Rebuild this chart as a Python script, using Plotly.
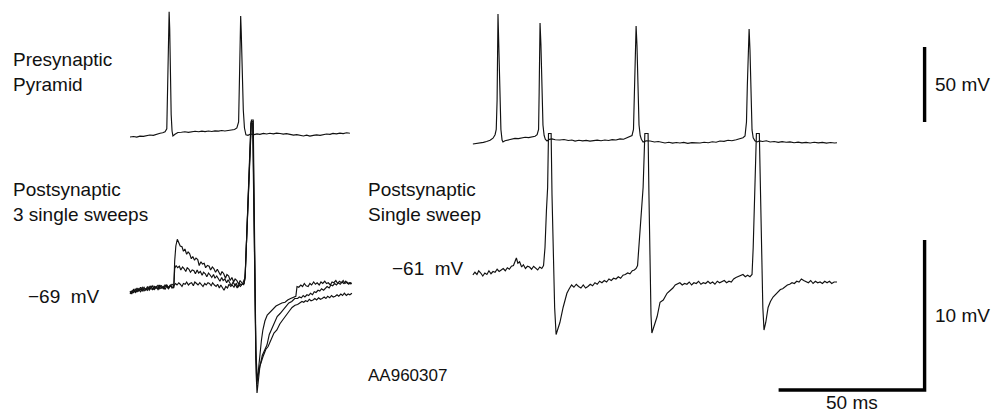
import plotly.graph_objects as go

# ---------------------------------------------------------------------------
# Paired recording: presynaptic pyramid -> postsynaptic cell
# Each trace is a list of (time in ms, membrane potential in mV)
# ---------------------------------------------------------------------------

# Left panel: presynaptic pyramid, two action potentials
PRE_LEFT = [
    (0.0, -60.0), (1.2, -59.7), (2.3, -60.1), (3.4, -59.4), (4.6, -59.6), (5.7, -58.9),
    (6.8, -58.7), (8.0, -58.9), (9.1, -58.1), (10.3, -57.5), (11.2, -57.2), (12.0, -56.5),
    (12.6, -54.5), (12.9, -30.0), (13.1, 0.0), (13.4, 23.5), (13.6, 12.0), (13.8, -20.0),
    (14.1, -45.0), (14.4, -56.0), (14.7, -59.3), (15.4, -58.2), (16.4, -57.0), (17.6, -56.8),
    (18.8, -56.5), (20.0, -56.9), (21.2, -56.6), (22.3, -56.2), (23.5, -56.5), (24.6, -56.1),
    (25.7, -56.4), (26.9, -56.0), (28.0, -56.3), (29.1, -55.9), (30.3, -56.1), (31.4, -55.7),
    (32.5, -56.0), (33.7, -55.6), (34.8, -55.5), (35.8, -55.0), (36.6, -54.0), (37.2, -50.0),
    (37.5, -20.0), (37.7, 5.0), (37.9, 20.7), (38.1, 10.0), (38.4, -18.0), (38.8, -42.0),
    (39.2, -54.0), (39.7, -58.5), (40.4, -58.9), (41.3, -58.0), (42.5, -58.4), (43.5, -57.9),
    (44.5, -58.2), (45.7, -57.6), (46.8, -58.0), (47.9, -57.5), (49.1, -57.9), (50.2, -57.4),
    (51.4, -57.7), (52.5, -58.1), (53.6, -57.8), (54.8, -58.3), (56.0, -58.7), (57.1, -58.4),
    (58.2, -58.9), (59.4, -59.3), (60.5, -58.8), (61.6, -59.4), (62.8, -58.9), (63.9, -58.6),
    (65.1, -58.9), (66.2, -58.4), (67.3, -58.0), (68.5, -58.2), (69.5, -57.6), (70.7, -57.9),
    (71.9, -57.4), (73.0, -57.7), (74.2, -57.2), (75.3, -57.5),
]

# Left panel: postsynaptic cell, three single sweeps
POST_LEFT_SWEEP_1 = [
    (0.0, -69.15), (0.6, -69.0), (1.2, -69.1), (1.8, -68.85), (2.4, -69.05), (3.0, -68.95),
    (3.6, -68.75), (4.2, -69.0), (4.8, -68.85), (5.4, -68.9), (6.0, -68.7), (6.6, -68.95),
    (7.2, -68.8), (7.8, -68.65), (8.4, -68.9), (9.0, -68.75), (9.6, -68.85), (10.2, -68.6),
    (10.8, -68.8), (11.4, -68.7), (12.0, -68.9), (12.6, -68.65), (13.2, -68.75), (13.8, -68.6),
    (14.4, -68.8), (15.0, -68.7), (15.3, -67.0), (15.7, -66.0), (16.2, -65.55), (16.7, -65.75),
    (17.2, -66.0), (17.8, -66.05), (18.3, -66.35), (18.8, -66.2), (19.4, -66.55), (19.9, -66.4),
    (20.4, -66.5), (21.0, -66.85), (21.5, -66.7), (22.1, -66.95), (22.6, -66.8), (23.2, -66.9),
    (23.7, -67.3), (24.3, -67.05), (24.8, -67.2), (25.4, -67.15), (25.9, -67.45), (26.5, -67.3),
    (27.1, -67.35), (27.6, -67.6), (28.2, -67.4), (28.7, -67.5), (29.3, -67.75), (29.9, -67.55),
    (30.4, -67.7), (31.0, -67.95), (31.5, -67.7), (32.1, -67.85), (32.7, -68.15), (33.2, -67.9),
    (33.8, -68.0), (34.3, -68.3), (34.9, -68.1), (35.5, -68.4), (36.0, -68.2), (36.6, -68.3),
    (37.2, -68.55), (37.7, -68.3), (38.3, -68.45), (38.9, -68.6), (39.4, -68.2), (39.7, -66.6),
    (40.1, -64.5), (40.6, -62.0), (41.1, -59.5), (41.5, -57.7), (42.1, -57.7), (42.4, -62.0),
    (42.8, -69.5), (43.1, -73.5), (43.5, -75.2), (43.8, -74.6), (44.3, -73.4), (45.0, -72.3),
    (45.5, -71.6), (46.2, -71.0), (47.0, -70.6), (47.9, -70.4), (49.0, -70.2), (50.0, -70.0),
    (51.0, -69.9), (52.0, -69.8), (53.1, -69.75), (54.0, -69.6), (55.0, -69.5), (56.0, -69.4),
    (56.8, -69.35), (57.2, -68.7), (57.8, -68.75), (58.5, -68.6), (59.1, -68.7), (59.7, -68.5),
    (60.3, -68.65), (61.0, -68.7), (61.6, -68.5), (62.2, -68.6), (62.9, -68.4), (63.5, -68.55),
    (64.1, -68.45), (64.8, -68.6), (65.4, -68.4), (66.0, -68.5), (66.7, -68.35), (67.3, -68.5),
    (67.9, -68.45), (68.6, -68.6), (69.2, -68.4), (69.8, -68.45), (70.5, -68.3), (71.1, -68.5),
    (71.7, -68.35), (72.4, -68.45), (73.0, -68.3), (73.6, -68.5), (74.3, -68.4), (74.9, -68.55),
    (75.5, -68.45), (76.0, -68.5),
]

POST_LEFT_SWEEP_2 = [
    (0.0, -69.0), (0.6, -69.2), (1.2, -68.95), (1.8, -69.05), (2.4, -68.8), (3.0, -69.0),
    (3.6, -68.9), (4.2, -68.75), (4.8, -69.0), (5.4, -68.85), (6.0, -68.95), (6.6, -68.7),
    (7.2, -68.85), (7.8, -68.9), (8.4, -68.7), (9.0, -68.8), (9.6, -68.6), (10.2, -68.85),
    (10.8, -68.75), (11.4, -68.8), (12.0, -68.6), (12.6, -68.75), (13.2, -68.85), (13.8, -68.65),
    (14.4, -68.7), (15.0, -68.8), (15.3, -67.5), (15.8, -67.3), (16.3, -67.45), (16.9, -67.35),
    (17.4, -67.6), (18.0, -67.4), (18.5, -67.5), (19.1, -67.7), (19.6, -67.45), (20.2, -67.55),
    (20.7, -67.75), (21.3, -67.6), (21.9, -67.65), (22.4, -67.85), (23.0, -67.6), (23.5, -67.8),
    (24.1, -67.7), (24.7, -67.95), (25.2, -67.75), (25.8, -67.85), (26.3, -68.05), (26.9, -67.8),
    (27.5, -67.95), (28.0, -68.1), (28.6, -67.9), (29.1, -68.15), (29.7, -68.0), (30.3, -68.2),
    (30.8, -68.35), (31.4, -68.1), (31.9, -68.3), (32.5, -68.2), (33.1, -68.45), (33.6, -68.25),
    (34.2, -68.5), (34.7, -68.65), (35.3, -68.4), (35.9, -68.6), (36.4, -68.5), (37.0, -68.75),
    (37.5, -68.5), (38.1, -68.6), (38.7, -68.45), (39.4, -68.1), (39.8, -66.2), (40.2, -64.0),
    (40.7, -61.5), (41.2, -59.0), (41.6, -57.6), (42.2, -57.6), (42.5, -63.0), (42.9, -70.5),
    (43.2, -74.5), (43.5, -75.8), (43.9, -75.1), (44.5, -74.0), (45.3, -73.3), (46.1, -72.9),
    (46.9, -72.6), (47.7, -71.9), (48.6, -71.5), (49.5, -71.0), (50.4, -70.7), (51.4, -70.5),
    (52.4, -70.25), (53.4, -70.0), (54.4, -69.8), (55.4, -69.7), (56.4, -69.5), (57.4, -69.5),
    (58.0, -69.4), (58.7, -69.45), (59.3, -69.3), (59.9, -69.4), (60.6, -69.25), (61.2, -69.3),
    (61.8, -69.15), (62.5, -69.25), (63.1, -69.05), (63.7, -69.1), (64.4, -68.95), (65.0, -69.0),
    (65.6, -68.85), (66.3, -68.95), (66.9, -68.8), (67.5, -68.7), (68.2, -68.8), (68.8, -68.6),
    (69.4, -68.65), (70.1, -68.5), (70.7, -68.6), (71.3, -68.45), (72.0, -68.55), (72.6, -68.4),
    (73.2, -68.5), (73.9, -68.35), (74.5, -68.5), (75.2, -68.45), (75.8, -68.55),
]

POST_LEFT_SWEEP_3 = [
    (0.0, -69.2), (0.6, -69.05), (1.2, -68.9), (1.8, -69.1), (2.4, -68.95), (3.0, -68.85),
    (3.6, -69.05), (4.2, -68.9), (4.8, -68.75), (5.4, -68.95), (6.0, -68.8), (6.6, -68.85),
    (7.2, -68.65), (7.8, -68.9), (8.4, -68.8), (9.0, -68.7), (9.6, -68.9), (10.2, -68.7),
    (10.8, -68.65), (11.4, -68.85), (12.0, -68.7), (12.6, -68.6), (13.2, -68.8), (13.8, -68.7),
    (14.4, -68.55), (15.0, -68.65), (15.6, -68.5), (16.1, -68.6), (16.7, -68.45), (17.2, -68.55),
    (17.8, -68.7), (18.3, -68.5), (18.9, -68.55), (19.4, -68.4), (20.0, -68.6), (20.5, -68.5),
    (21.1, -68.45), (21.7, -68.65), (22.2, -68.4), (22.8, -68.5), (23.3, -68.6), (23.9, -68.45),
    (24.4, -68.55), (25.0, -68.7), (25.6, -68.5), (26.1, -68.6), (26.7, -68.45), (27.2, -68.5),
    (27.8, -68.65), (28.3, -68.45), (28.9, -68.6), (29.5, -68.7), (30.0, -68.55), (30.6, -68.8),
    (31.1, -68.6), (31.7, -68.75), (32.2, -68.95), (32.8, -68.7), (33.4, -68.8), (33.9, -68.55),
    (34.5, -68.7), (35.0, -68.6), (35.6, -68.75), (36.1, -68.55), (36.7, -68.8), (37.3, -68.6),
    (37.8, -68.7), (38.4, -68.55), (39.1, -68.5), (39.5, -67.8), (39.9, -65.5), (40.4, -62.8),
    (40.9, -60.3), (41.4, -57.8), (42.0, -57.8), (42.3, -61.5), (42.7, -68.5), (43.1, -73.0),
    (43.6, -74.9), (44.0, -74.5), (44.5, -74.0), (45.5, -73.4), (46.5, -72.9), (47.3, -72.7),
    (48.3, -72.2), (49.3, -71.8), (50.3, -71.6), (51.3, -71.2), (52.4, -70.9), (53.4, -70.6),
    (54.5, -70.35), (55.5, -70.1), (56.5, -69.95), (57.4, -69.9), (58.2, -69.8), (58.9, -69.7),
    (59.5, -69.75), (60.1, -69.65), (60.8, -69.7), (61.4, -69.55), (62.0, -69.65), (62.7, -69.6),
    (63.3, -69.5), (63.9, -69.6), (64.6, -69.45), (65.2, -69.55), (65.8, -69.5), (66.5, -69.4),
    (67.1, -69.5), (67.7, -69.35), (68.4, -69.45), (69.0, -69.3), (69.6, -69.4), (70.3, -69.35),
    (70.9, -69.25), (71.5, -69.35), (72.2, -69.2), (72.8, -69.3), (73.4, -69.15), (74.1, -69.3),
    (74.7, -69.2), (75.3, -69.25), (76.0, -69.15),
]

# Right panel: presynaptic pyramid, train of four action potentials
PRE_RIGHT = [
    (0.3, -64.7), (1.5, -64.4), (2.7, -64.0), (3.9, -63.6), (5.0, -63.0), (6.2, -62.2),
    (7.2, -60.8), (7.9, -58.5), (8.3, -55.0), (8.6, -35.0), (8.9, 22.0), (9.2, 0.0),
    (9.5, -32.0), (9.9, -55.0), (10.3, -62.0), (10.6, -63.3), (11.3, -62.5), (12.3, -62.0),
    (13.5, -61.3), (14.7, -60.9), (15.9, -61.1), (17.1, -60.4), (18.2, -60.2), (19.4, -60.4),
    (20.5, -59.8), (21.6, -59.5), (22.3, -58.5), (22.8, -55.0), (23.0, -30.0), (23.3, 16.0),
    (23.6, 2.0), (23.9, -28.0), (24.3, -52.0), (24.7, -59.0), (25.1, -61.5), (25.7, -62.7),
    (26.5, -61.6), (27.4, -61.3), (28.5, -61.8), (30.1, -62.0), (31.5, -61.7), (33.0, -62.3),
    (34.2, -62.0), (35.3, -62.7), (36.6, -62.2), (37.9, -62.6), (39.1, -62.3), (40.4, -62.7),
    (41.6, -62.4), (42.9, -62.1), (44.2, -62.5), (45.5, -62.0), (46.8, -62.3), (48.0, -61.8),
    (49.3, -62.0), (50.7, -61.3), (51.9, -61.5), (53.0, -60.6), (54.1, -60.0), (54.8, -59.0),
    (55.3, -55.0), (55.7, -30.0), (56.0, 0.0), (56.2, 14.0), (56.5, 1.0), (56.8, -28.0),
    (57.2, -52.0), (57.6, -59.0), (58.0, -61.5), (58.6, -63.3), (59.6, -62.6), (61.0, -62.7),
    (62.5, -63.3), (63.8, -63.0), (65.0, -63.6), (66.1, -64.0), (67.4, -63.5), (68.7, -64.1),
    (70.0, -63.7), (71.2, -64.0), (72.5, -63.6), (73.9, -64.2), (75.3, -63.8), (76.7, -64.1),
    (78.1, -64.0), (79.5, -63.5), (80.9, -63.8), (82.3, -63.2), (83.6, -63.5), (84.9, -62.7),
    (86.3, -62.9), (87.7, -62.2), (89.0, -62.5), (90.5, -61.8), (91.8, -61.3), (92.8, -60.5),
    (93.5, -59.3), (94.0, -50.0), (94.3, -25.0), (94.6, 0.0), (94.9, 12.0), (95.2, -2.0),
    (95.5, -32.0), (95.9, -55.3), (96.3, -60.5), (96.9, -62.5), (97.6, -63.3), (98.5, -62.6),
    (99.5, -63.0), (100.8, -62.5), (102.1, -63.3), (103.5, -63.0), (104.9, -63.6), (106.2, -63.1),
    (107.6, -63.5), (108.9, -63.3), (110.3, -63.8), (111.7, -63.4), (113.0, -63.9), (114.4, -63.6),
    (115.8, -64.0), (117.2, -63.5), (118.6, -63.9), (120.0, -63.6), (121.4, -64.1), (122.8, -63.7),
    (124.2, -64.0), (125.0, -63.8),
]

# Right panel: postsynaptic cell, single sweep
POST_RIGHT = [
    (0.3, -61.33), (1.0, -61.15), (1.7, -61.3), (2.3, -61.05), (3.0, -61.2), (3.7, -61.4),
    (4.4, -61.2), (5.1, -61.3), (5.8, -61.05), (6.5, -61.25), (7.2, -61.1), (7.9, -61.15),
    (8.6, -60.95), (9.3, -61.1), (10.0, -61.0), (10.7, -60.9), (11.4, -61.05), (12.1, -60.85),
    (12.8, -60.95), (13.5, -60.75), (14.2, -60.7), (14.8, -60.45), (15.2, -60.2), (15.7, -60.55),
    (16.3, -60.45), (17.0, -60.8), (17.6, -60.65), (18.3, -60.9), (19.0, -60.75), (19.7, -60.8),
    (20.4, -60.95), (21.1, -60.75), (21.8, -60.85), (22.5, -61.0), (23.2, -60.8), (23.9, -60.9),
    (24.5, -60.7), (25.0, -59.5), (25.5, -57.0), (25.9, -55.5), (26.2, -51.9), (27.1, -51.9),
    (27.4, -56.0), (27.8, -60.0), (28.3, -63.5), (28.8, -65.3), (29.3, -65.0), (30.1, -64.5),
    (31.2, -63.5), (32.5, -62.55), (33.3, -62.25), (34.1, -62.0), (34.9, -62.15), (35.7, -61.95),
    (36.5, -62.1), (37.3, -62.2), (38.1, -62.0), (38.9, -62.2), (39.7, -62.1), (40.5, -61.95),
    (41.3, -62.05), (42.1, -61.85), (42.9, -61.95), (43.7, -61.75), (44.5, -61.85), (45.3, -61.7),
    (46.1, -61.8), (46.9, -61.6), (47.7, -61.7), (48.5, -61.55), (49.3, -61.6), (50.1, -61.45),
    (50.9, -61.55), (51.7, -61.35), (52.5, -61.3), (53.3, -61.2), (54.1, -61.25), (54.9, -61.05),
    (55.6, -61.0), (56.2, -60.9), (56.7, -60.7),
    (57.3, -59.0), (57.9, -57.0), (58.6, -55.5), (59.2, -51.9), (60.3, -51.9), (60.6, -56.0),
    (61.0, -61.0), (61.3, -64.0), (61.6, -65.2), (62.3, -64.8), (63.4, -64.1), (64.4, -63.15),
    (65.5, -63.0), (66.8, -62.55), (67.8, -62.4), (68.8, -62.2), (69.6, -62.0), (70.4, -61.95),
    (71.2, -61.85), (72.0, -62.0), (72.8, -61.9), (73.6, -61.95), (74.4, -61.8), (75.2, -62.0),
    (76.0, -61.85), (76.8, -61.9), (77.6, -61.75), (78.4, -61.95), (79.2, -61.85), (80.0, -61.9),
    (80.8, -61.75), (81.6, -61.9), (82.4, -61.8), (83.2, -61.95), (84.0, -61.75), (84.8, -61.85),
    (85.6, -61.8), (86.4, -61.7), (87.2, -61.85), (88.0, -61.75), (88.8, -61.8), (89.6, -61.6),
    (90.4, -61.5), (91.2, -61.45), (92.0, -61.35), (92.8, -61.3), (93.6, -61.45), (94.4, -61.35),
    (95.2, -61.45), (95.9, -61.3), (96.3, -59.5),
    (96.7, -56.5), (97.0, -55.0), (97.4, -51.9), (98.4, -51.9), (98.8, -56.0), (99.2, -60.5),
    (99.6, -63.5), (100.0, -65.0), (100.6, -64.5), (101.4, -63.5), (102.2, -63.1), (103.1, -62.8),
    (104.0, -62.6), (104.8, -62.45), (105.6, -62.3), (106.4, -62.25), (107.2, -62.1), (108.0, -62.0),
    (108.8, -61.95), (109.6, -61.85), (110.4, -61.9), (111.2, -61.75), (112.0, -61.8), (112.8, -61.6),
    (113.6, -61.7), (114.4, -61.8), (115.2, -61.85), (116.0, -61.7), (116.8, -61.9), (117.6, -61.75),
    (118.4, -61.85), (119.2, -61.8), (120.0, -61.9), (120.8, -61.75), (121.6, -61.85), (122.4, -61.75),
    (123.2, -61.9), (124.0, -61.8), (125.0, -61.8),
]

# Scale bars (sizes in data units)
BAR_TIME_MS = 50
BAR_POST_MV = 10
BAR_PRE_MV = 50

# Resting potentials quoted beside the postsynaptic traces
REST_LEFT_MV = -69
REST_RIGHT_MV = -61
RECORDING_ID = "AA960307"

# ---------------------------------------------------------------------------
# Page geometry: every axis spans the whole page, ranges set the scale
# ---------------------------------------------------------------------------
W, H = 992, 416
PX_PER_MS = 2.92
PX_PER_MV_PRE = 1.5
PX_PER_MV_POST = 15.0

LEFT_T0_PX = 130      # where t = 0 sits for the left panel
RIGHT_T0_PX = 472     # where t = 0 sits for the right panel
PRE_ZERO_PY = 47      # where 0 mV sits on the presynaptic scale
POST_LEFT_PY = 291    # where REST_LEFT_MV sits
POST_RIGHT_PY = 270   # where REST_RIGHT_MV sits

BAR_CORNER_MS = 155   # scale-bar corner, right-panel time
BAR_POST_BASE = -69   # bottom of the 10 mV bar (right postsynaptic scale)
BAR_PRE_BASE = -50    # bottom of the 50 mV bar (presynaptic scale)


def x_range(t0_px):
    return [-t0_px / PX_PER_MS, (W - t0_px) / PX_PER_MS]


def y_range(ref_py, ref_mv, k):
    return [ref_mv - (H - ref_py) / k, ref_mv + ref_py / k]


def unzip(pairs):
    return [p[0] for p in pairs], [p[1] for p in pairs]


TRACE_LINE = dict(color="#111111", width=1.15)
BAR_LINE = dict(color="#000000", width=3.4)

fig = go.Figure()


def add_trace(pairs, xa, ya, line=TRACE_LINE):
    x, y = unzip(pairs)
    fig.add_trace(go.Scatter(x=x, y=y, mode="lines", line=line,
                             xaxis=xa, yaxis=ya, hoverinfo="skip",
                             showlegend=False))


add_trace(PRE_LEFT, "x", "y")
for sweep in (POST_LEFT_SWEEP_3, POST_LEFT_SWEEP_2, POST_LEFT_SWEEP_1):
    add_trace(sweep, "x", "y2")
add_trace(PRE_RIGHT, "x2", "y")
add_trace(POST_RIGHT, "x2", "y3")

# 50 ms / 10 mV L-shaped bar on the right postsynaptic scale
add_trace([(BAR_CORNER_MS - BAR_TIME_MS, BAR_POST_BASE),
           (BAR_CORNER_MS, BAR_POST_BASE),
           (BAR_CORNER_MS, BAR_POST_BASE + BAR_POST_MV)], "x2", "y3", BAR_LINE)
# 50 mV bar on the presynaptic scale
add_trace([(BAR_CORNER_MS, BAR_PRE_BASE),
           (BAR_CORNER_MS, BAR_PRE_BASE + BAR_PRE_MV)], "x2", "y", BAR_LINE)

FONT = dict(family="Liberation Sans, Arial, Helvetica, sans-serif", size=19, color="#111111")
SMALL_FONT = dict(FONT, size=17)


def px_note(text, px, py, xanchor="left", font=FONT):
    fig.add_annotation(text=text, x=px / W, y=1 - py / H, xref="paper", yref="paper",
                       xanchor=xanchor, yanchor="middle", showarrow=False,
                       align="left", font=font)


px_note("Presynaptic<br>Pyramid", 11, 72)
px_note("Postsynaptic<br>3 single sweeps", 11, 202)
px_note("Postsynaptic<br>Single sweep", 366, 202)
px_note(RECORDING_ID, 407, 375, xanchor="center", font=SMALL_FONT)

GAP = "\u00a0\u00a0"
fig.add_annotation(text=f"\u2212{abs(REST_LEFT_MV)}{GAP}mV", x=0, y=REST_LEFT_MV,
                   xref="x", yref="y2", xanchor="right", yanchor="middle",
                   xshift=-28, yshift=-5, showarrow=False, font=FONT)
fig.add_annotation(text=f"\u2212{abs(REST_RIGHT_MV)}{GAP}mV", x=0, y=REST_RIGHT_MV,
                   xref="x2", yref="y3", xanchor="right", yanchor="middle",
                   xshift=-6, yshift=2, showarrow=False, font=FONT)

fig.add_annotation(text=f"{BAR_PRE_MV} mV", x=BAR_CORNER_MS, y=BAR_PRE_BASE + BAR_PRE_MV / 2,
                   xref="x2", yref="y", xanchor="left", yanchor="middle",
                   xshift=8, showarrow=False, font=FONT)
fig.add_annotation(text=f"{BAR_POST_MV} mV", x=BAR_CORNER_MS, y=BAR_POST_BASE + BAR_POST_MV / 2,
                   xref="x2", yref="y3", xanchor="left", yanchor="middle",
                   xshift=8, showarrow=False, font=FONT)
# time-bar label sits at the foot of the page, centred under the bar
fig.add_annotation(text=f"{BAR_TIME_MS} ms", x=BAR_CORNER_MS - BAR_TIME_MS / 2, y=0,
                   xref="x2", yref="paper", xanchor="center", yanchor="bottom",
                   yshift=1, showarrow=False, font=FONT)

hidden = dict(visible=False, showgrid=False, zeroline=False, fixedrange=True)
fig.update_layout(
    width=W, height=H, autosize=False,
    margin=dict(l=0, r=0, t=0, b=0, pad=0),
    paper_bgcolor="white", plot_bgcolor="white",
    xaxis=dict(range=x_range(LEFT_T0_PX), domain=[0, 1], **hidden),
    xaxis2=dict(range=x_range(RIGHT_T0_PX), overlaying="x", anchor="y", **hidden),
    yaxis=dict(range=y_range(PRE_ZERO_PY, 0, PX_PER_MV_PRE), domain=[0, 1], **hidden),
    yaxis2=dict(range=y_range(POST_LEFT_PY, REST_LEFT_MV, PX_PER_MV_POST),
                overlaying="y", anchor="x", **hidden),
    yaxis3=dict(range=y_range(POST_RIGHT_PY, REST_RIGHT_MV, PX_PER_MV_POST),
                overlaying="y", anchor="x", **hidden),
    showlegend=False,
)

fig.write_html("out.html")
